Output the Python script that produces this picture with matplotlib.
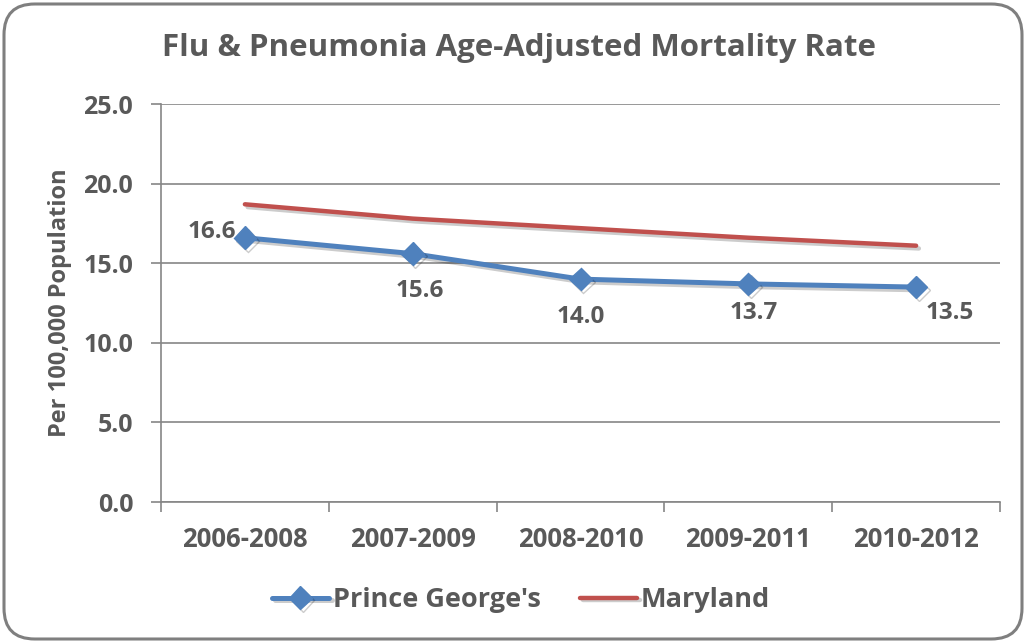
import matplotlib.pyplot as plt
import matplotlib.patheffects as pe
from matplotlib.patches import FancyBboxPatch
import numpy as np

# data
periods = ['2006-2008', '2007-2009', '2008-2010', '2009-2011', '2010-2012']
prince_georges = [16.6, 15.6, 14.0, 13.7, 13.5]
maryland = [18.7, 17.8, 17.2, 16.6, 16.1]

TXT = '#595959'
BLUE = '#4F81BD'
RED = '#C0504D'
GRID = '#868686'

plt.rcParams['font.family'] = ['Open Sans', 'DejaVu Sans']
plt.rcParams['font.weight'] = 'bold'

fig = plt.figure(figsize=(10.26, 6.43), dpi=100)
ax = fig.add_axes([161/1026, 1-502/643, (1000-161)/1026, (502-104)/643])

# rounded chart border
border = FancyBboxPatch((4/1026, 4/643), 1018/1026, 635/643,
                        boxstyle='round,pad=0,rounding_size=0.03',
                        transform=fig.transFigure, fc='none', ec='#7f7f7f', lw=2.2,
                        mutation_aspect=1026/643)
fig.patches.append(border)

x = np.arange(len(periods))
shadow_line = [pe.SimpleLineShadow(offset=(2, -2), alpha=0.2), pe.Normal()]

ax.plot(x, maryland, color=RED, lw=3.2, solid_capstyle='round',
        label='Maryland', path_effects=shadow_line, zorder=3)
ax.plot(x, prince_georges, color=BLUE, lw=3.6, marker='D', ms=11.5,
        solid_capstyle='round', label="Prince George's",
        path_effects=shadow_line, zorder=4)

# data labels
offsets = [(-24, 4), (5, -27), (0, -27), (4, -21), (24, -19)]
for xi, v, off in zip(x, prince_georges, offsets):
    ax.annotate(f'{v:.1f}', (xi, v), xytext=off, textcoords='offset points',
                ha='center', va='center', fontsize=17.5, color=TXT, fontweight='bold')

ax.set_xlim(-0.5, 4.5)
ax.set_ylim(0, 25)
ax.set_yticks(np.arange(0, 26, 5))
ax.set_yticklabels([f'{v:.1f}' for v in np.arange(0, 26, 5)])
ax.set_xticks(x)
ax.set_xticklabels(periods)
ax.set_xticks(np.arange(-0.5, 5, 1), minor=True)
ax.tick_params(axis='x', which='major', length=0, pad=17, labelsize=18.5, labelcolor=TXT)
ax.tick_params(axis='x', which='minor', length=7, color=GRID, width=1.2)
ax.tick_params(axis='y', length=7, color=GRID, width=1.2, pad=13, labelsize=18, labelcolor=TXT)
for lbl in ax.get_xticklabels() + ax.get_yticklabels():
    lbl.set_fontweight('bold')

ax.grid(axis='y', color=GRID, lw=1.2)
ax.set_axisbelow(True)
for s in ['top', 'right']:
    ax.spines[s].set_visible(False)
for s in ['left', 'bottom']:
    ax.spines[s].set_color(GRID)
    ax.spines[s].set_linewidth(1.2)

ax.set_ylabel('Per 100,000 Population', fontsize=17, color=TXT, fontweight='bold', labelpad=8)
fig.text(519/1026, 1-48/643, 'Flu & Pneumonia Age-Adjusted Mortality Rate',
         ha='center', va='center', fontsize=22.5, color=TXT, fontweight='bold')

handles, labels = ax.get_legend_handles_labels()
leg = fig.legend(handles[::-1], labels[::-1], loc='center', bbox_to_anchor=(521/1026, 1-600/643),
                 ncol=2, frameon=False, fontsize=19.5, handlelength=2.1, columnspacing=1.45,
                 handletextpad=0.15, labelcolor=TXT)
for t in leg.get_texts():
    t.set_fontweight('bold')

fig.savefig('out.png', dpi=100)
